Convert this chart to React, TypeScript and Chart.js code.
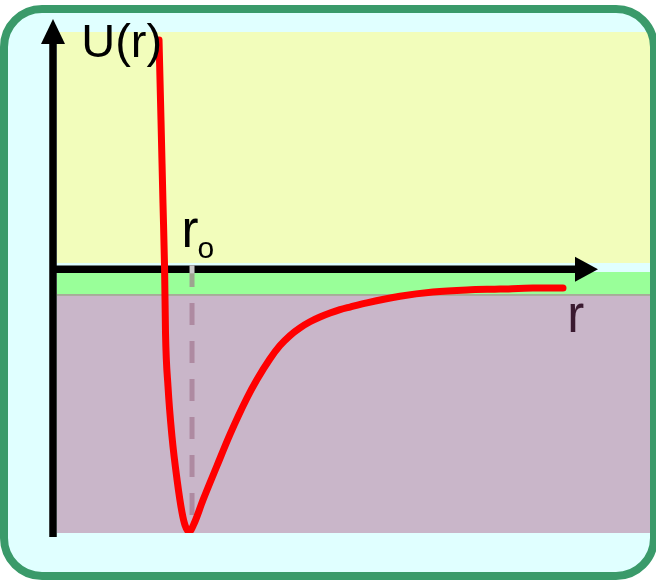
import React, { useEffect, useRef } from "react";
import { Chart, registerables } from "chart.js";

Chart.register(...registerables);

// Potential curve U(r)
const R_VALUES = [1.767, 1.8, 1.833, 1.86, 1.875, 1.917, 1.983, 2.067, 2.15, 2.2, 2.267, 2.35, 2.5, 2.733, 2.95, 3.233, 3.4, 3.617, 3.783, 3.95, 4.117, 4.283, 4.45, 4.617, 4.783, 4.95, 5.233, 5.783, 6.333, 6.9, 7.45, 8.0, 8.5];
const U_VALUES = [0.87, 0.566, 0.251, 0, -0.24, -0.445, -0.634, -0.797, -0.922, -0.97, -0.996, -0.965, -0.875, -0.745, -0.626, -0.488, -0.418, -0.339, -0.289, -0.251, -0.222, -0.199, -0.181, -0.166, -0.153, -0.143, -0.127, -0.102, -0.086, -0.078, -0.075, -0.071, -0.071];

// Axis ranges
const R_RANGE = [0, 10];
const U_RANGE = [-1, 0.9];

// Background bands
const BAND_TOPS = [0.9, -0.0102, -0.0937, -0.101];
const BAND_BOTTOMS = [0.024, -0.0937, -0.101, -1.0];
const BAND_COLORS = ["#f2fdbb", "#99ff99", "#a5ab97", "#c9b6c9"];
const BAND_R_START = 0.067;

// Equilibrium distance marker
const R0 = 2.317;
const R0_U_TOP = 0.016;
const R0_U_BOTTOM = -0.932;

// Axis extents
const V_AXIS_U = [-1.015, 0.949];
const H_AXIS_R = [-0.05, 9.083];

// Labels
const LABEL_TEXTS = ["U(r)", "r", "o", "r"];
const LABEL_R = [0.47, 2.14, 2.41, 8.57];
const LABEL_U = [0.805, 0.085, 0.043, -0.238];
const LABEL_SIZES = [47, 51, 30, 51];
const LABEL_COLORS = ["#000000", "#000000", "#000000", "#3a1a30"];

const FONT = '"Liberation Sans", Arial, sans-serif';

const decorPlugin = {
  id: "decor",
  beforeDatasetsDraw(chart: any) {
    const ctx = chart.ctx as CanvasRenderingContext2D;
    const xs = chart.scales.x;
    const ys = chart.scales.y;
    const W = chart.width;
    const H = chart.height;
    ctx.save();
    ctx.fillStyle = "#ffffff";
    ctx.fillRect(0, 0, W, H);
    const frame = () => {
      ctx.beginPath();
      (ctx as any).roundRect(4, 9, W - 6, H - 13, 38);
    };
    frame();
    ctx.fillStyle = "#e0ffff";
    ctx.fill();
    ctx.save();
    frame();
    ctx.clip();
    const x0 = xs.getPixelForValue(BAND_R_START);
    const x1 = xs.getPixelForValue(R_RANGE[1]);
    for (let i = 0; i < BAND_TOPS.length; i++) {
      const yt = ys.getPixelForValue(BAND_TOPS[i]);
      const yb = ys.getPixelForValue(BAND_BOTTOMS[i]);
      ctx.fillStyle = BAND_COLORS[i];
      ctx.fillRect(x0, yt, x1 - x0, yb - yt);
    }
    ctx.restore();
    frame();
    ctx.lineWidth = 8;
    ctx.strokeStyle = "#3a9a6a";
    ctx.stroke();

    const xr0 = xs.getPixelForValue(R0);
    ctx.beginPath();
    ctx.setLineDash([22, 16]);
    ctx.moveTo(xr0, ys.getPixelForValue(R0_U_TOP));
    ctx.lineTo(xr0, ys.getPixelForValue(R0_U_BOTTOM));
    ctx.lineWidth = 5;
    ctx.strokeStyle = "rgba(160,115,140,0.65)";
    ctx.stroke();
    ctx.setLineDash([]);

    const ax = xs.getPixelForValue(0);
    const ay = ys.getPixelForValue(0);
    ctx.fillStyle = "#000000";
    ctx.strokeStyle = "#000000";
    ctx.lineWidth = 7.5;
    const vTop = ys.getPixelForValue(V_AXIS_U[1]);
    const vBot = ys.getPixelForValue(V_AXIS_U[0]);
    ctx.beginPath();
    ctx.moveTo(ax, vBot);
    ctx.lineTo(ax, vTop + 20);
    ctx.stroke();
    ctx.beginPath();
    ctx.moveTo(ax, vTop);
    ctx.lineTo(ax - 12, vTop + 25);
    ctx.lineTo(ax + 12, vTop + 25);
    ctx.closePath();
    ctx.fill();
    const hL = xs.getPixelForValue(H_AXIS_R[0]);
    const hR = xs.getPixelForValue(H_AXIS_R[1]);
    ctx.beginPath();
    ctx.moveTo(hL, ay);
    ctx.lineTo(hR - 20, ay);
    ctx.stroke();
    ctx.beginPath();
    ctx.moveTo(hR, ay);
    ctx.lineTo(hR - 23, ay - 12.5);
    ctx.lineTo(hR - 23, ay + 12.5);
    ctx.closePath();
    ctx.fill();
    ctx.fillStyle = "#c8c8c8";
    ctx.fillRect(xr0 - 2.5, ay - 4, 5, 8);
    ctx.restore();
  },
  afterDatasetsDraw(chart: any) {
    const ctx = chart.ctx as CanvasRenderingContext2D;
    const xs = chart.scales.x;
    const ys = chart.scales.y;
    ctx.save();
    ctx.textBaseline = "alphabetic";
    ctx.textAlign = "left";
    for (let i = 0; i < LABEL_TEXTS.length; i++) {
      ctx.font = `${LABEL_SIZES[i]}px ${FONT}`;
      ctx.fillStyle = LABEL_COLORS[i];
      ctx.fillText(LABEL_TEXTS[i], xs.getPixelForValue(LABEL_R[i]), ys.getPixelForValue(LABEL_U[i]));
    }
    ctx.restore();
  },
};

export default function App() {
  const ref = useRef<HTMLCanvasElement | null>(null);
  useEffect(() => {
    if (!ref.current) return;
    const chart = new Chart(ref.current, {
      type: "line",
      data: {
        datasets: [
          {
            data: R_VALUES.map((r, i) => ({ x: r, y: U_VALUES[i] })),
            borderColor: "#ff0000",
            borderWidth: 7,
            pointRadius: 0,
            cubicInterpolationMode: "monotone",
            fill: false,
            borderCapStyle: "round",
            borderJoinStyle: "round",
          } as any,
        ],
      },
      options: {
        animation: false,
        responsive: false,
        maintainAspectRatio: false,
        layout: { padding: { left: 53, right: 3, top: 32, bottom: 47 } },
        scales: {
          x: { type: "linear", min: R_RANGE[0], max: R_RANGE[1], display: false },
          y: { type: "linear", min: U_RANGE[0], max: U_RANGE[1], display: false },
        },
        plugins: { legend: { display: false }, tooltip: { enabled: false } },
      },
      plugins: [decorPlugin],
    });
    return () => chart.destroy();
  }, []);
  return (
    <div style={{ position: "absolute", left: 0, top: 0, width: 656, height: 580 }}>
      <canvas ref={ref} width={656} height={580} style={{ display: "block", width: 656, height: 580 }} />
    </div>
  );
}
